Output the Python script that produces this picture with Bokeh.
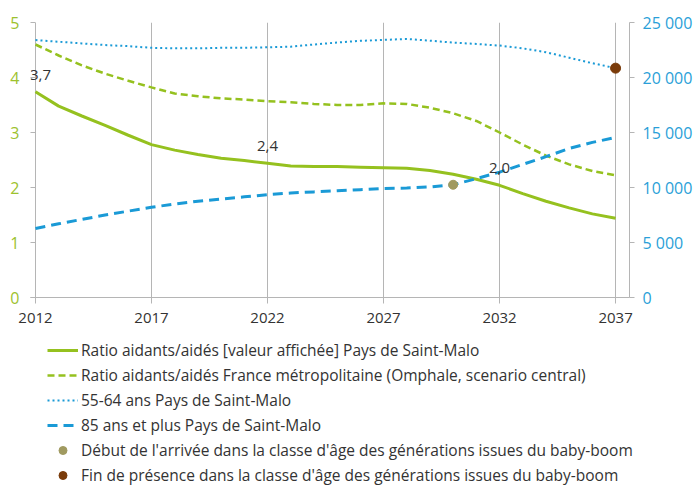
from bokeh.plotting import figure
from bokeh.layouts import column
from bokeh.core.properties import value
from bokeh.models import (Range1d, LinearAxis, FixedTicker, ColumnDataSource,
                          LabelSet, Legend, LegendItem)
from bokeh.embed import file_html
from bokeh.resources import INLINE

years = list(range(2012, 2038))
ratio_sm = [3.74, 3.48, 3.30, 3.13, 2.95, 2.78, 2.68, 2.60, 2.53, 2.49, 2.44, 2.39, 2.38, 2.38,
            2.37, 2.36, 2.35, 2.31, 2.24, 2.15, 2.04, 1.89, 1.75, 1.63, 1.52, 1.44]
ratio_fr = [4.60, 4.40, 4.22, 4.07, 3.94, 3.82, 3.71, 3.66, 3.62, 3.60, 3.57, 3.55, 3.52, 3.50,
            3.50, 3.53, 3.52, 3.45, 3.35, 3.21, 3.00, 2.78, 2.58, 2.42, 2.30, 2.22]
pop_55_64 = [23400, 23250, 23100, 22950, 22850, 22700, 22650, 22650, 22700, 22700, 22750, 22800,
             23000, 23180, 23330, 23420, 23500, 23350, 23170, 23050, 22900, 22650, 22300, 21800,
             21300, 20850]
pop_85 = [6270, 6700, 7100, 7500, 7850, 8200, 8500, 8750, 8950, 9150, 9350, 9500, 9600, 9700,
          9800, 9900, 9950, 10050, 10250, 10800, 11400, 12100, 12800, 13550, 14100, 14550]
start_year = [2030]
start_val = [10250]
end_year = [2037]
end_val = [20850]
label_years = [2012, 2022, 2032]
x_ticks = [2012, 2017, 2022, 2027, 2032, 2037]
left_ticks = [0, 1, 2, 3, 4, 5]
right_ticks = [0, 5000, 10000, 15000, 20000, 25000]
right_tick_labels = ["0", "5 000", "10 000", "15 000", "20 000", "25 000"]
legend_labels = [
    "Ratio aidants/aidés [valeur affichée] Pays de Saint-Malo",
    "Ratio aidants/aidés France métropolitaine (Omphale, scenario central)",
    "55-64 ans Pays de Saint-Malo",
    "85 ans et plus Pays de Saint-Malo",
    "Début de l'arrivée dans la classe d'âge des générations issues du baby-boom",
    "Fin de présence dans la classe d'âge des générations issues du baby-boom",
]

GREEN = "#95c11f"
GREEN_TXT = "#9dc22e"
BLUE = "#1a9ad6"
BLUE_TXT = "#2a9fd8"
OLIVE = "#a09a60"
BROWN = "#7a3b0a"
GRAY = "#b5b5b5"
TXT = "#333333"
FONT = "Open Sans"

W, H_MAIN, H_LEG = 695, 336, 150
LEFT, TOP, FRAME_W, FRAME_H = 30, 22, 603, 275
PAD_PX = 5                      # gap between frame edge and first year
X_END = 2037.6
px_per_year = (FRAME_W - PAD_PX) / (X_END - years[0])
x_start = years[0] - PAD_PX / px_per_year

p = figure(width=W, height=H_MAIN, output_backend="svg", toolbar_location=None,
           x_range=Range1d(x_start, X_END), y_range=Range1d(0, 5),
           min_border_left=LEFT, min_border_right=W - LEFT - FRAME_W,
           min_border_top=TOP, min_border_bottom=H_MAIN - TOP - FRAME_H,
           frame_align=False)
p.outline_line_color = None
p.extra_y_ranges = {"pop": Range1d(0, 25000)}

# x axis
xa = p.xaxis[0]
xa.ticker = FixedTicker(ticks=x_ticks)
xa.axis_line_color = GRAY
xa.major_tick_line_color = GRAY
xa.major_tick_out = 6
xa.major_tick_in = 0
xa.minor_tick_line_color = None
xa.major_label_text_font = FONT
xa.major_label_text_font_size = "15px"
xa.major_label_text_color = TXT
xa.major_label_standoff = 9

# left axis (its line is the first-year grid line)
ya = p.yaxis[0]
ya.ticker = FixedTicker(ticks=left_ticks)
ya.axis_line_color = None
ya.major_tick_line_color = GRAY
ya.major_tick_out = 0
ya.major_tick_in = PAD_PX
ya.minor_tick_line_color = None
ya.major_label_text_font = FONT
ya.major_label_text_font_size = "16px"
ya.major_label_text_color = GREEN_TXT
ya.major_label_standoff = 11

# right axis
ra = LinearAxis(y_range_name="pop", ticker=FixedTicker(ticks=right_ticks),
                major_label_overrides={t: l for t, l in zip(right_ticks, right_tick_labels)})
ra.axis_line_color = GRAY
ra.major_tick_line_color = GRAY
ra.major_tick_out = 5
ra.major_tick_in = 0
ra.minor_tick_line_color = None
ra.major_label_text_font = FONT
ra.major_label_text_font_size = "16px"
ra.major_label_text_color = BLUE_TXT
ra.major_label_standoff = 8
p.add_layout(ra, "right")

p.xgrid.ticker = FixedTicker(ticks=x_ticks)
p.xgrid.grid_line_color = GRAY
p.ygrid.grid_line_color = None

styles = [
    dict(kind="line", line_color=GREEN, line_width=3),
    dict(kind="line", line_color=GREEN, line_width=2.5, line_dash="7 4"),
    dict(kind="line", line_color=BLUE, line_width=2, line_dash="2 3"),
    dict(kind="line", line_color=BLUE, line_width=3, line_dash="10 6"),
    dict(kind="dot", size=9, color=OLIVE),
    dict(kind="dot", size=10, color=BROWN),
]
series = [
    (years, ratio_sm, "default"),
    (years, ratio_fr, "default"),
    (years, pop_55_64, "pop"),
    (years, pop_85, "pop"),
    (start_year, start_val, "pop"),
    (end_year, end_val, "pop"),
]


def draw(fig, st, x, y, **kw):
    st = dict(st)
    kind = st.pop("kind")
    if kind == "line":
        return fig.line(x, y, **st, **kw)
    return fig.scatter(x, y, **st, **kw)


for st, (xs, ys, rng) in zip(styles, series):
    draw(p, st, xs, ys, y_range_name=rng)

label_vals = [ratio_sm[years.index(y)] for y in label_years]
label_txt = [f"{v:.1f}".replace(".", ",") for v in label_vals]
label_dx = [PAD_PX if y == years[0] else 0 for y in label_years]
src = ColumnDataSource(dict(x=label_years, y=label_vals, t=label_txt, dx=label_dx))
labels = LabelSet(x="x", y="y", text="t", source=src, y_offset=17, x_offset="dx",
                  text_align="center", text_baseline="middle",
                  text_font=value(FONT), text_font_size=value("15px"), text_color=TXT)
p.add_layout(labels)

# legend panel below the chart: same series drawn outside its visible range,
# so only their legend glyphs show
lg = figure(width=W, height=H_LEG, output_backend="svg", toolbar_location=None,
            x_range=Range1d(0, 1), y_range=Range1d(0, 1),
            min_border_left=0, min_border_right=0, min_border_top=0, min_border_bottom=0,
            frame_align=False)
lg.axis.visible = False
lg.grid.visible = False
lg.outline_line_color = None
proxies = [draw(lg, st, xs, ys) for st, (xs, ys, _) in zip(styles, series)]
items = [LegendItem(label=l, renderers=[r]) for l, r in zip(legend_labels, proxies)]
legend = Legend(items=items, location=(47, 0), orientation="vertical",
                glyph_width=31, glyph_height=20, label_height=20, spacing=3,
                padding=0, margin=0, label_standoff=3,
                label_text_font=FONT, label_text_font_size="15.5px",
                label_text_color=TXT, background_fill_alpha=0,
                border_line_color=None)
lg.add_layout(legend)

layout = column(p, lg, spacing=0)
open("out.html", "w").write(file_html(layout, INLINE))
